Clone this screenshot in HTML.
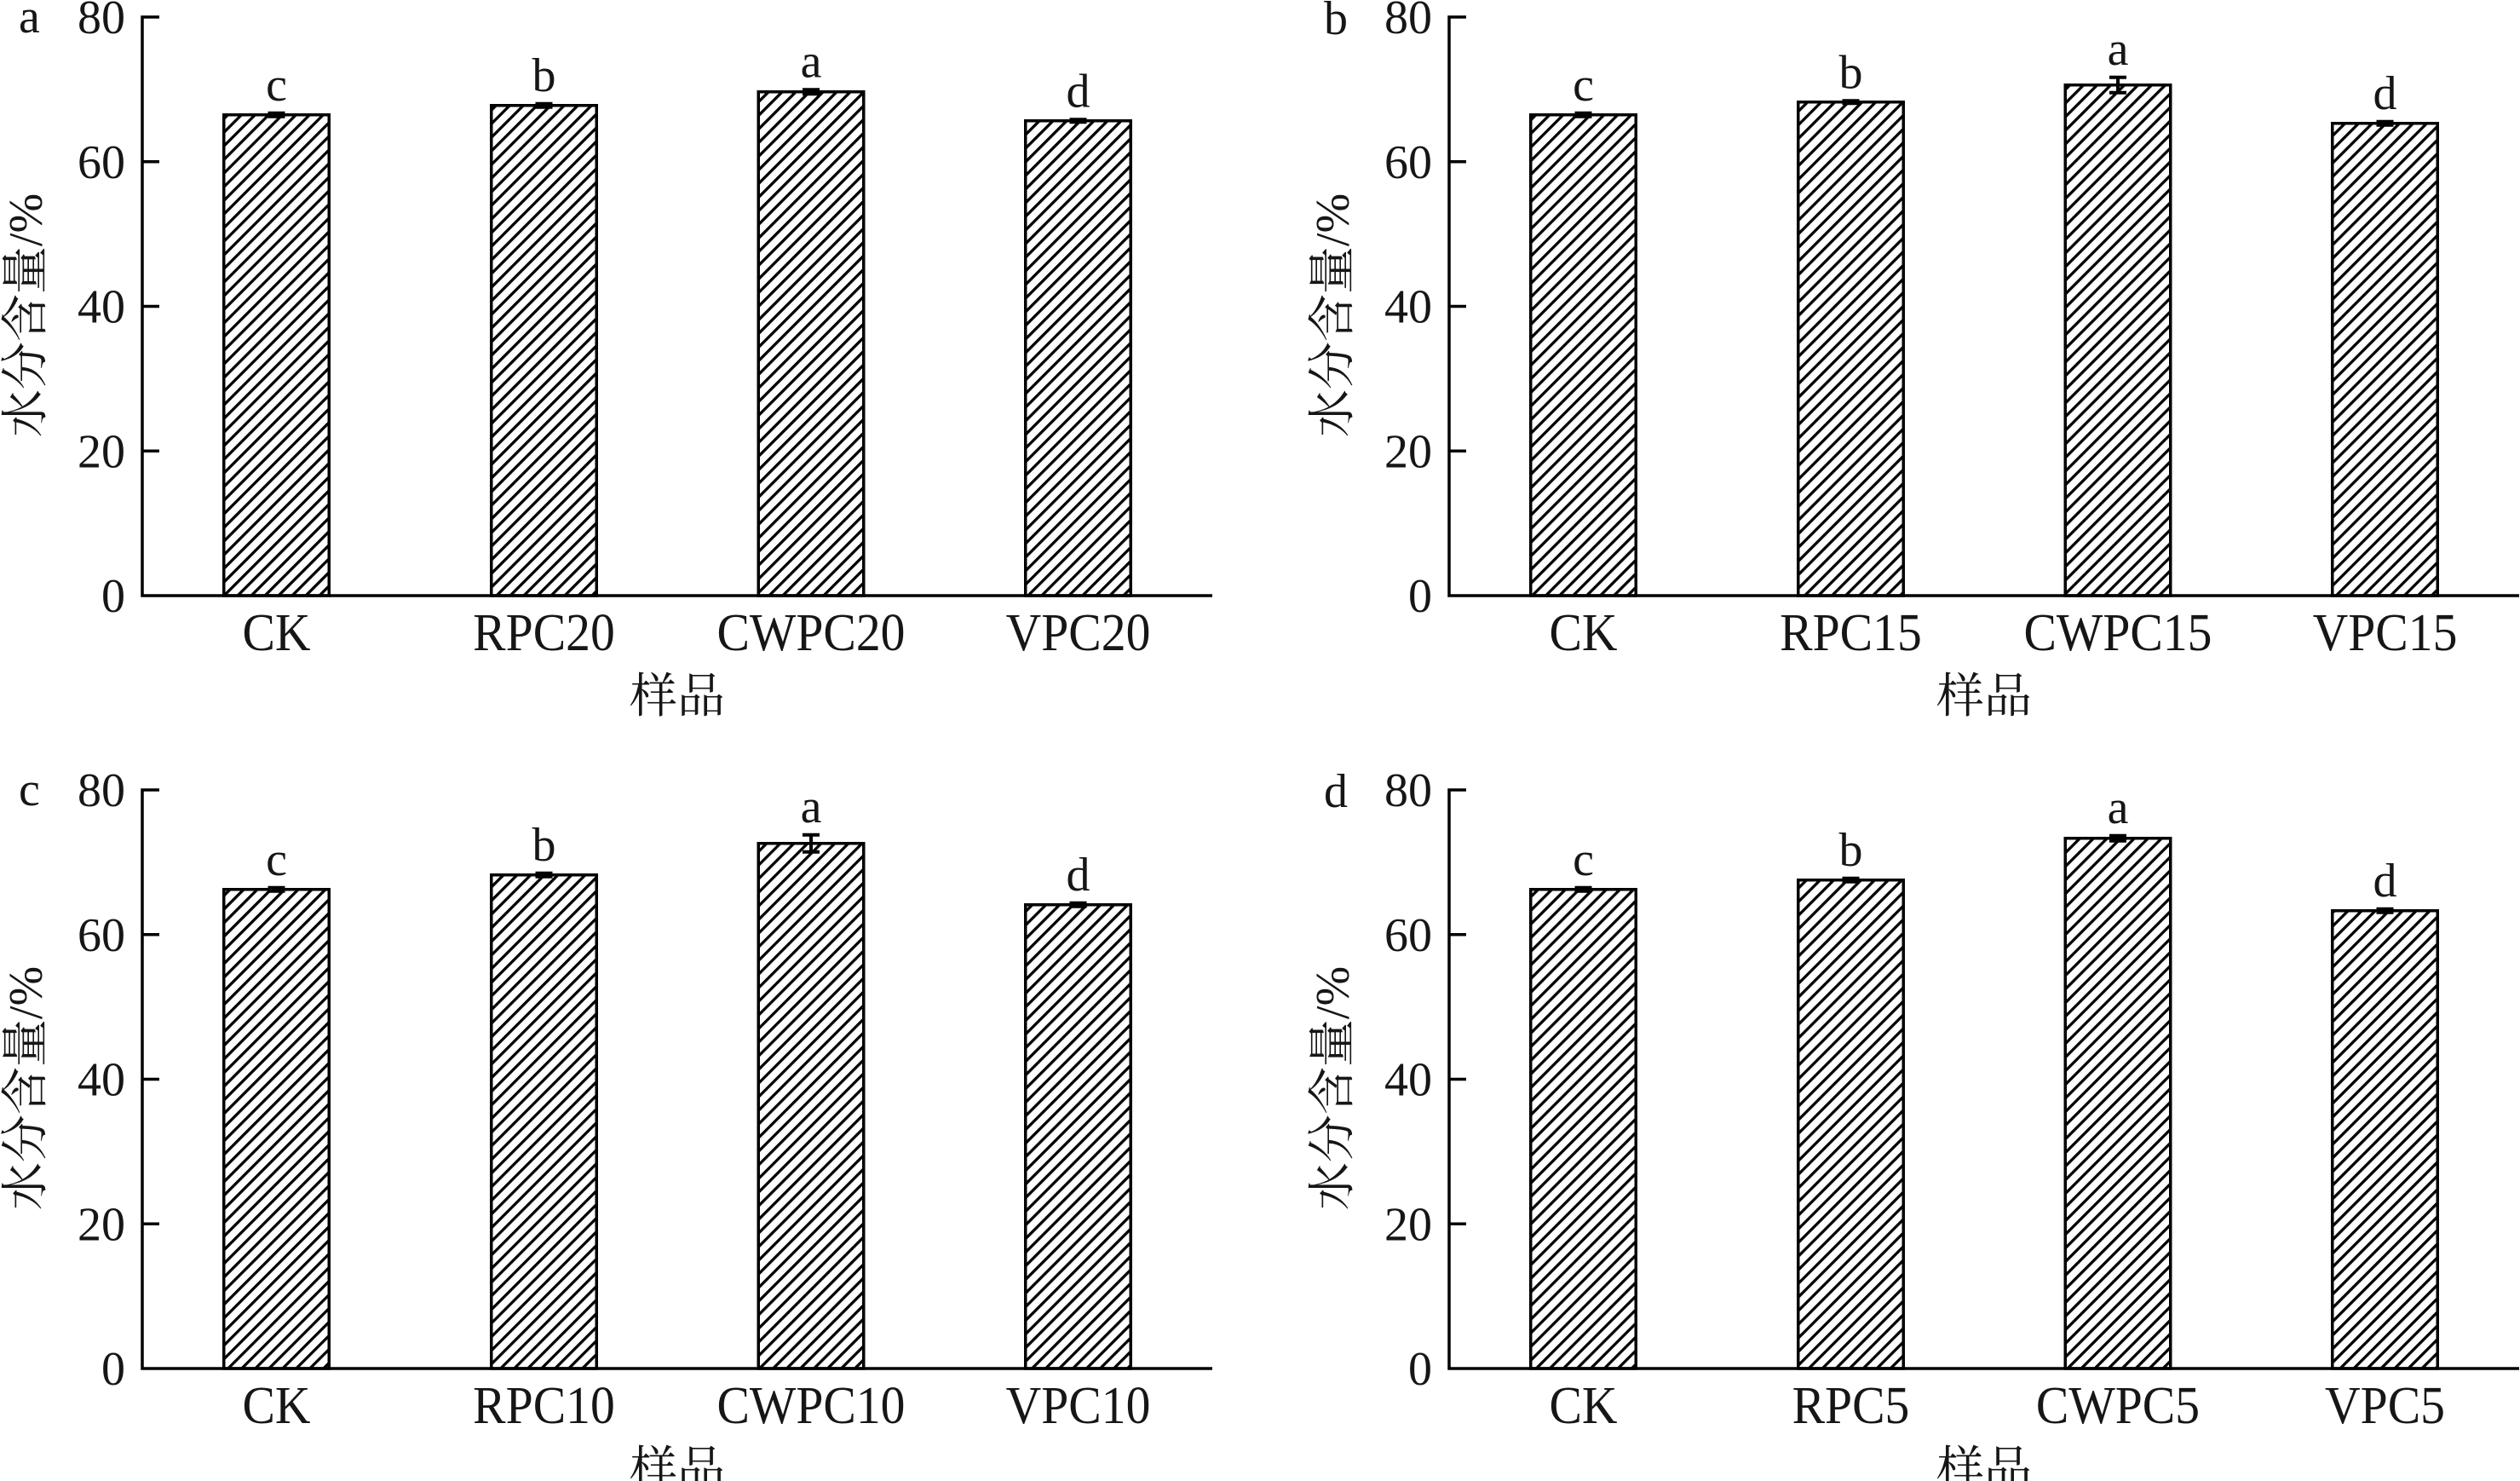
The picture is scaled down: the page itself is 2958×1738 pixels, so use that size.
<!DOCTYPE html>
<html><head><meta charset="utf-8"><style>
html,body{margin:0;padding:0;background:#fff;}
svg{display:block;}
text{font-family:"Liberation Serif","Noto Serif CJK SC",serif;fill:#161616;}
.t{font-size:56px;text-anchor:end;}
.c{font-size:62px;text-anchor:middle;}
.l{font-size:56px;text-anchor:middle;}
.p{font-size:56px;}
.x{font-size:56px;text-anchor:middle;dominant-baseline:central;}
</style></head><body>
<svg width="2958" height="1738" viewBox="0 0 2958 1738" xmlns="http://www.w3.org/2000/svg">
<defs>
<pattern id="h" width="11.31" height="11.31" patternUnits="userSpaceOnUse" patternTransform="rotate(45)">
<rect width="11.31" height="11.31" fill="#fff"/>
<rect width="3.3" height="11.31" fill="#000"/>
</pattern>
</defs>
<rect width="2958" height="1738" fill="#fff"/>

<!-- ============ Panel a ============ -->
<g>
<rect x="262.75" y="134.75" width="123.5" height="564.25" fill="url(#h)" stroke="#000" stroke-width="3.5"/>
<rect x="576.75" y="123.75" width="123.5" height="575.25" fill="url(#h)" stroke="#000" stroke-width="3.5"/>
<rect x="890.25" y="107.75" width="123.5" height="591.25" fill="url(#h)" stroke="#000" stroke-width="3.5"/>
<rect x="1203.75" y="141.75" width="123.5" height="557.25" fill="url(#h)" stroke="#000" stroke-width="3.5"/>
<path d="M314.5 132.75H334.5M324.5 132.75V136.75M314.5 136.75H334.5 M628.5 121.75H648.5M638.5 121.75V125.75M628.5 125.75H648.5 M942 105.25H962M952 105.25V110.25M942 110.25H962 M1255.5 140.25H1275.5M1265.5 140.25V143.25M1255.5 143.25H1275.5" stroke="#000" stroke-width="4" fill="none"/>
<path d="M167 18.25V700.75M165.25 699H1423M167 20H187M167 189.75H187M167 359.5H187M167 529.25H187" stroke="#000" stroke-width="3.5" fill="none"/>
<text class="t" x="147" y="39">80</text>
<text class="t" x="147" y="208.75">60</text>
<text class="t" x="147" y="378.5">40</text>
<text class="t" x="147" y="548.25">20</text>
<text class="t" x="147" y="718">0</text>
<text class="l" x="324.5" y="117.75">c</text>
<text class="l" x="638.5" y="106.75">b</text>
<text class="l" x="952" y="90.25">a</text>
<text class="l" x="1265.5" y="125.25">d</text>
<text class="c" transform="scale(0.93 1)" x="348.92" y="763">CK</text>
<text class="c" transform="scale(0.93 1)" x="686.56" y="763">RPC20</text>
<text class="c" transform="scale(0.93 1)" x="1023.66" y="763">CWPC20</text>
<text class="c" transform="scale(0.93 1)" x="1360.75" y="763">VPC20</text>
<text class="x" x="795" y="818">样品</text>
<text class="x" transform="translate(31 370) rotate(-90)" x="0" y="0">水分含量/%</text>
<text class="p" x="22" y="38">a</text>
</g>

<!-- ============ Panel b ============ -->
<g>
<rect x="1796.75" y="134.75" width="123.5" height="564.25" fill="url(#h)" stroke="#000" stroke-width="3.5"/>
<rect x="2110.75" y="119.75" width="123.5" height="579.25" fill="url(#h)" stroke="#000" stroke-width="3.5"/>
<rect x="2424.25" y="99.75" width="123.5" height="599.25" fill="url(#h)" stroke="#000" stroke-width="3.5"/>
<rect x="2737.75" y="144.75" width="123.5" height="554.25" fill="url(#h)" stroke="#000" stroke-width="3.5"/>
<path d="M1848.5 132.75H1868.5M1858.5 132.75V136.75M1848.5 136.75H1868.5 M2162.5 118.25H2182.5M2172.5 118.25V121.25M2162.5 121.25H2182.5 M2476 90.75H2496M2486 90.75V108.75M2476 108.75H2496 M2789.5 142.75H2809.5M2799.5 142.75V146.75M2789.5 146.75H2809.5" stroke="#000" stroke-width="4" fill="none"/>
<path d="M1701 18.25V700.75M1699.25 699H2957M1701 20H1721M1701 189.75H1721M1701 359.5H1721M1701 529.25H1721" stroke="#000" stroke-width="3.5" fill="none"/>
<text class="t" x="1681" y="39">80</text>
<text class="t" x="1681" y="208.75">60</text>
<text class="t" x="1681" y="378.5">40</text>
<text class="t" x="1681" y="548.25">20</text>
<text class="t" x="1681" y="718">0</text>
<text class="l" x="1858.5" y="117.75">c</text>
<text class="l" x="2172.5" y="103.25">b</text>
<text class="l" x="2486" y="75.75">a</text>
<text class="l" x="2799.5" y="127.75">d</text>
<text class="c" transform="scale(0.93 1)" x="1998.39" y="763">CK</text>
<text class="c" transform="scale(0.93 1)" x="2336.02" y="763">RPC15</text>
<text class="c" transform="scale(0.93 1)" x="2673.12" y="763">CWPC15</text>
<text class="c" transform="scale(0.93 1)" x="3010.22" y="763">VPC15</text>
<text class="x" x="2329" y="818">样品</text>
<text class="x" transform="translate(1565 370) rotate(-90)" x="0" y="0">水分含量/%</text>
<text class="p" x="1554" y="40">b</text>
</g>

<!-- ============ Panel c ============ -->
<g>
<rect x="262.75" y="1043.75" width="123.5" height="562.25" fill="url(#h)" stroke="#000" stroke-width="3.5"/>
<rect x="576.75" y="1026.75" width="123.5" height="579.25" fill="url(#h)" stroke="#000" stroke-width="3.5"/>
<rect x="890.25" y="989.75" width="123.5" height="616.25" fill="url(#h)" stroke="#000" stroke-width="3.5"/>
<rect x="1203.75" y="1061.75" width="123.5" height="544.25" fill="url(#h)" stroke="#000" stroke-width="3.5"/>
<path d="M314.5 1041.75H334.5M324.5 1041.75V1045.75M314.5 1045.75H334.5 M628.5 1024.75H648.5M638.5 1024.75V1028.75M628.5 1028.75H648.5 M942 979.75H962M952 979.75V999.75M942 999.75H962 M1255.5 1059.75H1275.5M1265.5 1059.75V1063.75M1255.5 1063.75H1275.5" stroke="#000" stroke-width="4" fill="none"/>
<path d="M167 925.25V1607.75M165.25 1606H1423M167 927H187M167 1096.75H187M167 1266.5H187M167 1436.25H187" stroke="#000" stroke-width="3.5" fill="none"/>
<text class="t" x="147" y="946">80</text>
<text class="t" x="147" y="1115.75">60</text>
<text class="t" x="147" y="1285.5">40</text>
<text class="t" x="147" y="1455.25">20</text>
<text class="t" x="147" y="1625">0</text>
<text class="l" x="324.5" y="1026.75">c</text>
<text class="l" x="638.5" y="1009.75">b</text>
<text class="l" x="952" y="964.75">a</text>
<text class="l" x="1265.5" y="1044.75">d</text>
<text class="c" transform="scale(0.93 1)" x="348.92" y="1670">CK</text>
<text class="c" transform="scale(0.93 1)" x="686.56" y="1670">RPC10</text>
<text class="c" transform="scale(0.93 1)" x="1023.66" y="1670">CWPC10</text>
<text class="c" transform="scale(0.93 1)" x="1360.75" y="1670">VPC10</text>
<text class="x" x="795" y="1725">样品</text>
<text class="x" transform="translate(31 1277) rotate(-90)" x="0" y="0">水分含量/%</text>
<text class="p" x="22" y="945">c</text>
</g>

<!-- ============ Panel d ============ -->
<g>
<rect x="1796.75" y="1043.75" width="123.5" height="562.25" fill="url(#h)" stroke="#000" stroke-width="3.5"/>
<rect x="2110.75" y="1032.75" width="123.5" height="573.25" fill="url(#h)" stroke="#000" stroke-width="3.5"/>
<rect x="2424.25" y="983.75" width="123.5" height="622.25" fill="url(#h)" stroke="#000" stroke-width="3.5"/>
<rect x="2737.75" y="1068.75" width="123.5" height="537.25" fill="url(#h)" stroke="#000" stroke-width="3.5"/>
<path d="M1848.5 1041.75H1868.5M1858.5 1041.75V1045.75M1848.5 1045.75H1868.5 M2162.5 1030.75H2182.5M2172.5 1030.75V1034.75M2162.5 1034.75H2182.5 M2476 980.75H2496M2486 980.75V986.75M2476 986.75H2496 M2789.5 1066.75H2809.5M2799.5 1066.75V1070.75M2789.5 1070.75H2809.5" stroke="#000" stroke-width="4" fill="none"/>
<path d="M1701 925.25V1607.75M1699.25 1606H2957M1701 927H1721M1701 1096.75H1721M1701 1266.5H1721M1701 1436.25H1721" stroke="#000" stroke-width="3.5" fill="none"/>
<text class="t" x="1681" y="946">80</text>
<text class="t" x="1681" y="1115.75">60</text>
<text class="t" x="1681" y="1285.5">40</text>
<text class="t" x="1681" y="1455.25">20</text>
<text class="t" x="1681" y="1625">0</text>
<text class="l" x="1858.5" y="1026.75">c</text>
<text class="l" x="2172.5" y="1015.75">b</text>
<text class="l" x="2486" y="965.75">a</text>
<text class="l" x="2799.5" y="1051.75">d</text>
<text class="c" transform="scale(0.93 1)" x="1998.39" y="1670">CK</text>
<text class="c" transform="scale(0.93 1)" x="2336.02" y="1670">RPC5</text>
<text class="c" transform="scale(0.93 1)" x="2673.12" y="1670">CWPC5</text>
<text class="c" transform="scale(0.93 1)" x="3010.22" y="1670">VPC5</text>
<text class="x" x="2329" y="1725">样品</text>
<text class="x" transform="translate(1565 1277) rotate(-90)" x="0" y="0">水分含量/%</text>
<text class="p" x="1554" y="947">d</text>
</g>
</svg>
</body></html>
